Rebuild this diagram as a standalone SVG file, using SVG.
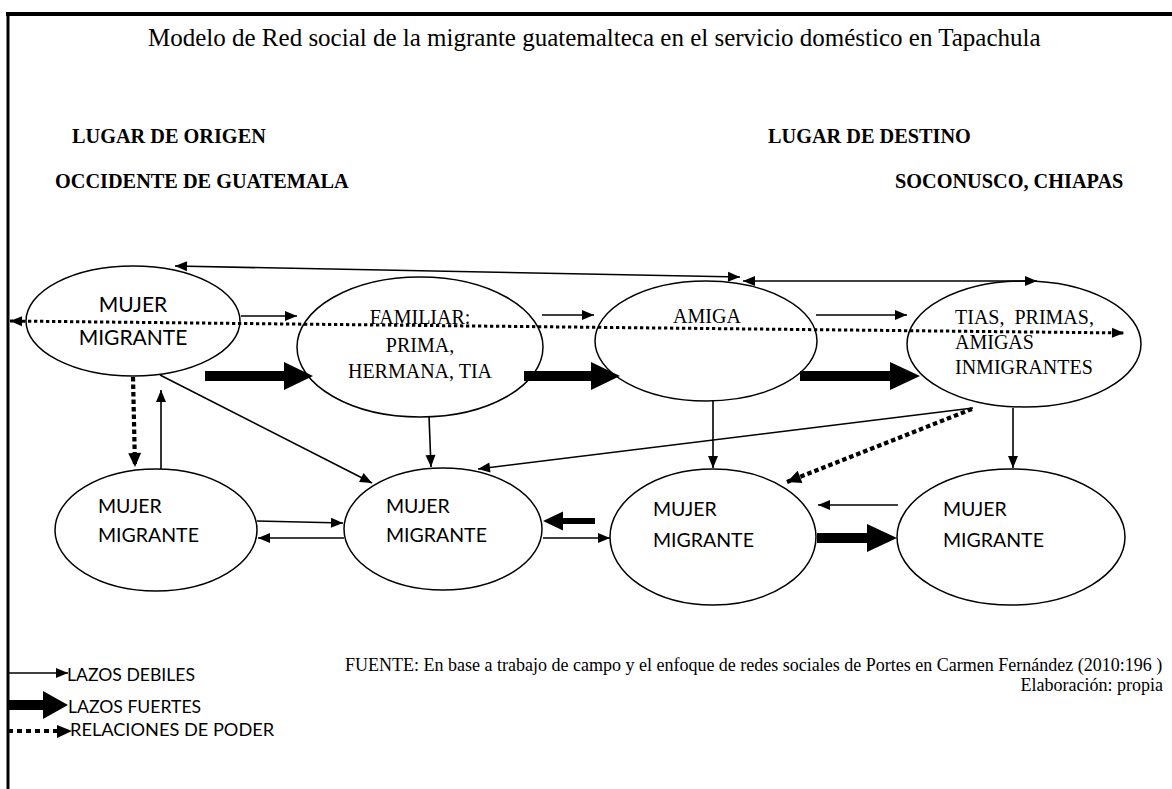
<svg xmlns="http://www.w3.org/2000/svg" width="1172" height="789" viewBox="0 0 1172 789" xml:space="preserve">
<defs>
<marker id="ah" markerUnits="userSpaceOnUse" markerWidth="13" markerHeight="11" refX="12" refY="5" orient="auto-start-reverse" overflow="visible"><path d="M0,0 L12,5 L0,10 z" fill="#000"/></marker>
<marker id="ahd" markerUnits="userSpaceOnUse" markerWidth="15" markerHeight="14" refX="14" refY="6.5" orient="auto-start-reverse" overflow="visible"><path d="M0,0 L14,6.5 L0,13 z" fill="#000"/></marker>
</defs>
<style>
.e{fill:#fff;stroke:#000;stroke-width:1.5}
.thin{stroke:#000;stroke-width:1.6;fill:none}
.dot{stroke:#000;stroke-width:3;stroke-dasharray:3.3 2.7;fill:none}
.dotb{stroke:#000;stroke-width:4.2;stroke-dasharray:4.5 3;fill:none}
.thick{fill:#000;stroke:none}
.s{font-family:Lato,"Liberation Sans",Arial,sans-serif;fill:#000}
.t{font-family:"Liberation Serif","Times New Roman",serif;fill:#000;white-space:pre}
.b{font-weight:bold}
</style>
<rect width="1172" height="789" fill="#fff"/>
<g id="frame">
<line x1="6" y1="14" x2="1172" y2="14" stroke="#000" stroke-width="4"/>
<line x1="8" y1="12" x2="8" y2="789" stroke="#000" stroke-width="3"/>
</g>
<g id="headers" class="t">
<text x="148" y="46" font-size="25">Modelo de Red social de la migrante guatemalteca  en el servicio doméstico en Tapachula</text>
<text x="72" y="143" font-size="20.3" class="b">LUGAR DE ORIGEN</text>
<text x="55" y="188" font-size="20.3" class="b">OCCIDENTE DE GUATEMALA</text>
<text x="768" y="143" font-size="20.3" class="b">LUGAR DE DESTINO</text>
<text x="895" y="188" font-size="20.3" class="b">SOCONUSCO, CHIAPAS</text>
</g>
<g id="n-mujer-origen">
<ellipse class="e" cx="133" cy="321" rx="107" ry="55"/>
<text class="s" x="133" y="312" font-size="21" text-anchor="middle">MUJER</text>
<text class="s" x="133" y="345" font-size="21" text-anchor="middle">MIGRANTE</text>
</g>
<g id="n-familiar">
<ellipse class="e" cx="420" cy="347" rx="123" ry="70"/>
<text class="t" x="420" y="324" font-size="20" text-anchor="middle">FAMILIAR:</text>
<text class="t" x="420" y="352" font-size="20" text-anchor="middle">PRIMA,</text>
<text class="t" x="420" y="378" font-size="20" text-anchor="middle">HERMANA, TIA</text>
</g>
<g id="n-amiga">
<ellipse class="e" cx="706" cy="341" rx="111" ry="60"/>
<text class="t" x="707" y="323" font-size="20" text-anchor="middle">AMIGA</text>
</g>
<g id="n-tias">
<ellipse class="e" cx="1024" cy="344" rx="117" ry="63"/>
<text class="t" x="955" y="324" font-size="20">TIAS,  PRIMAS,</text>
<text class="t" x="955" y="349" font-size="20">AMIGAS</text>
<text class="t" x="955" y="374" font-size="20">INMIGRANTES</text>
</g>
<g id="n-mujer-1">
<ellipse class="e" cx="156" cy="530" rx="101" ry="61"/>
<text class="s" x="98" y="513" font-size="19.5">MUJER</text>
<text class="s" x="98" y="542" font-size="19.5">MIGRANTE</text>
</g>
<g id="n-mujer-2">
<ellipse class="e" cx="443" cy="529" rx="99" ry="61"/>
<text class="s" x="386" y="513" font-size="19.5">MUJER</text>
<text class="s" x="386" y="542" font-size="19.5">MIGRANTE</text>
</g>
<g id="n-mujer-3">
<ellipse class="e" cx="713" cy="537" rx="103" ry="68"/>
<text class="s" x="653" y="516" font-size="19.5">MUJER</text>
<text class="s" x="653" y="547" font-size="19.5">MIGRANTE</text>
</g>
<g id="n-mujer-4">
<ellipse class="e" cx="1011" cy="537" rx="114" ry="68"/>
<text class="s" x="943" y="516" font-size="19.5">MUJER</text>
<text class="s" x="943" y="547" font-size="19.5">MIGRANTE</text>
</g>
<g id="connectors">
<path class="thin" d="M175,266 L740,277" marker-start="url(#ah)" marker-end="url(#ah)"/>
<path class="thin" d="M743,281 L1037,281" marker-start="url(#ah)" marker-end="url(#ah)"/>
<path class="dot" d="M10,321 L1124,333" marker-start="url(#ah)" marker-end="url(#ah)"/>
<path class="thin" d="M241,316 L297,316" marker-end="url(#ah)"/>
<path class="thin" d="M542,315 L594,315" marker-end="url(#ah)"/>
<path class="thin" d="M816,315 L907,315" marker-end="url(#ah)"/>
<path class="thick" d="M205,371 H284 V362 L313,376 L284,390 V381 H205 Z"/>
<path class="thick" d="M524,371 H591 V362 L620,376 L591,390 V381 H524 Z"/>
<path class="thick" d="M800,371 H890 V362 L920,376 L890,390 V381 H800 Z"/>
<path class="dotb" d="M133,377 L135,467" marker-end="url(#ahd)"/>
<path class="thin" d="M161,469 L161,390" marker-end="url(#ah)"/>
<path class="thin" d="M160,375 L372,483" marker-end="url(#ah)"/>
<path class="thin" d="M429,416 L431,467" marker-end="url(#ah)"/>
<path class="thin" d="M973,408 L478,469" marker-end="url(#ah)"/>
<path class="dotb" d="M972,409 L787,482" marker-end="url(#ahd)"/>
<path class="thin" d="M713,400 L713,468" marker-end="url(#ah)"/>
<path class="thin" d="M1013,408 L1013,468" marker-end="url(#ah)"/>
<path class="thin" d="M257,521 L343,523" marker-end="url(#ah)"/>
<path class="thin" d="M344,538 L258,538" marker-end="url(#ah)"/>
<path class="thick" d="M595,518 H563 V511.5 L543,521 L563,530.5 V524 H595 Z"/>
<path class="thin" d="M543,538 L610,538" marker-end="url(#ah)"/>
<path class="thin" d="M898,505 L818,505" marker-end="url(#ah)"/>
<path class="thick" d="M817,533 H867 V524 L897,538 L867,552 V543 H817 Z"/>
</g>
<g id="legend">
<path class="thin" d="M8,673 L68,673" marker-end="url(#ah)"/>
<path class="thick" d="M8,700 H43 V691 L68,705 L43,719 V710 H8 Z"/>
<path class="dotb" d="M8,731 L57,731" style="stroke-dasharray:5 4"/>
<path class="thick" d="M57,725 L72,731 L57,738 Z"/>
<text class="s" x="67" y="681" font-size="17.6">LAZOS DEBILES</text>
<text class="s" x="68" y="713" font-size="17.6">LAZOS FUERTES</text>
<text class="s" x="70" y="736" font-size="18.2">RELACIONES DE PODER</text>
</g>
<g id="source" class="t">
<text x="345" y="671" font-size="18">FUENTE: En base a trabajo de campo y el enfoque de redes sociales de Portes en Carmen Fernández (2010:196 )</text>
<text x="1163" y="691" font-size="18" text-anchor="end">Elaboración: propia</text>
</g>
</svg>
